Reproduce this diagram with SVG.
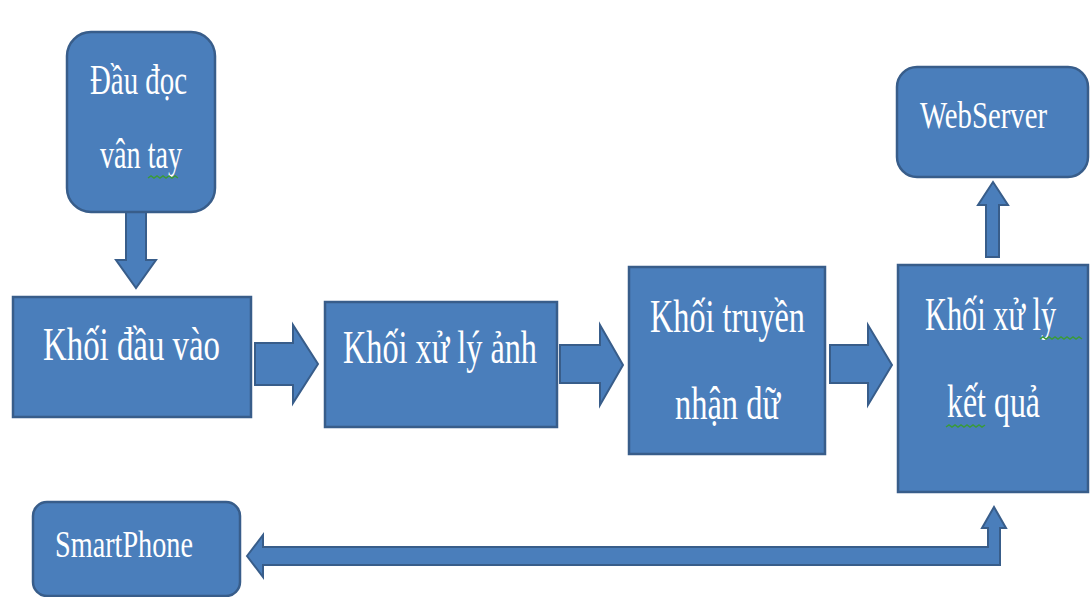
<svg xmlns="http://www.w3.org/2000/svg" width="1090" height="597" viewBox="0 0 1090 597">
<style>
.box{fill:#4A7EBB;stroke:#385D8A;stroke-width:2.5}
.arr{fill:#4A7EBB;stroke:#385D8A;stroke-width:2;stroke-linejoin:miter}
.t{font-family:"Liberation Serif","Times New Roman",serif;fill:#FFFFFF;font-size:46px}
.tm{font-family:"Liberation Serif","Times New Roman",serif;fill:#FFFFFF;font-size:42px}
.ts{font-family:"Liberation Serif","Times New Roman",serif;fill:#FFFFFF;font-size:38px}
.sq{fill:none;stroke:#3A9A3A;stroke-width:1.5}
</style>
<rect width="1090" height="597" fill="#FFFFFF"/>
<g id="connectors">
<polygon class="arr" points="126,212 146,212 146,260 156,260 136,288 116,260 126,260"/>
<polygon class="arr" points="255,343 293,343 293,325 318,364 293,403 293,385 255,385"/>
<polygon class="arr" points="560,345 600,345 600,325 623,365 600,405 600,383 560,383"/>
<polygon class="arr" points="830,345 868,345 868,325 892,365 868,405 868,383 830,383"/>
<polygon class="arr" points="986,257 986,205 978,205 993,182 1008,205 999,205 999,257"/>
<polygon class="arr" points="247,556 263,535 263,547 988,547 988,528 982,528 994,507 1006,528 1000,528 1000,565 263,565 263,577"/>
</g>
<g id="node-dau-doc">
<rect class="box" x="67" y="32" width="148" height="180" rx="24"/>
<text class="tm" x="90" y="94" textLength="97" lengthAdjust="spacingAndGlyphs">Đầu đọc</text>
<text class="tm" x="100" y="168" textLength="82" lengthAdjust="spacingAndGlyphs">vân tay</text>
<path class="sq" d="M148,178 l3,-2 l3,2 l3,-2 l3,2 l3,-2 l3,2 l3,-2 l3,2 l3,-2 l3,2"/>
</g>
<g id="node-khoi-dau-vao">
<rect class="box" x="13" y="297" width="238" height="120"/>
<text class="t" x="43" y="360" textLength="177" lengthAdjust="spacingAndGlyphs">Khối đầu vào</text>
</g>
<g id="node-khoi-xu-ly-anh">
<rect class="box" x="325" y="302" width="232" height="125"/>
<text class="t" x="343" y="363" textLength="194" lengthAdjust="spacingAndGlyphs">Khối xử lý ảnh</text>
</g>
<g id="node-khoi-truyen">
<rect class="box" x="629" y="267" width="196" height="187"/>
<text class="t" x="650" y="332" textLength="155" lengthAdjust="spacingAndGlyphs">Khối truyền</text>
<text class="t" x="675" y="419" textLength="105" lengthAdjust="spacingAndGlyphs">nhận dữ</text>
</g>
<g id="node-khoi-xu-ly-ket-qua">
<rect class="box" x="898" y="265" width="190" height="227"/>
<text class="t" transform="translate(925,330) scale(0.66,1)" x="0" y="0">Khối xử lý</text>
<text class="t" x="947" y="417" textLength="93" lengthAdjust="spacingAndGlyphs">kết quả</text>
<path class="sq" d="M1040,339 l3,-2 l3,2 l3,-2 l3,2 l3,-2 l3,2 l3,-2 l3,2 l3,-2 l3,2 l3,-2 l3,2 l3,-2 l3,2"/>
<path class="sq" d="M946,427 l3,-2 l3,2 l3,-2 l3,2 l3,-2 l3,2 l3,-2 l3,2 l3,-2 l3,2 l3,-2 l3,2 l3,-2"/>
</g>
<g id="node-webserver">
<rect class="box" x="897" y="67" width="191" height="110" rx="20"/>
<text class="ts" x="920" y="128" textLength="127" lengthAdjust="spacingAndGlyphs">WebServer</text>
</g>
<g id="node-smartphone">
<rect class="box" x="33" y="502" width="207" height="94" rx="14"/>
<text class="ts" x="55" y="557" textLength="138" lengthAdjust="spacingAndGlyphs">SmartPhone</text>
</g>
</svg>
